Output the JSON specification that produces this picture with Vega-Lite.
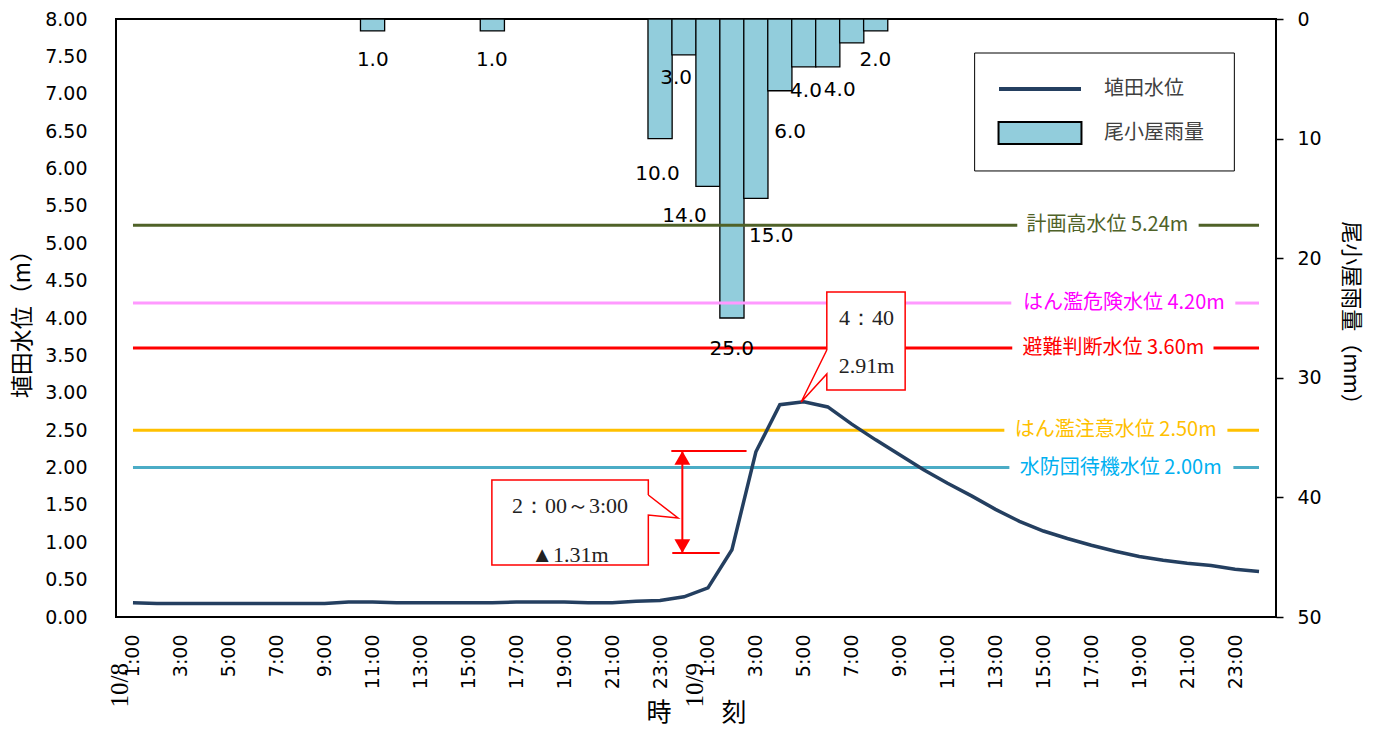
{
  "$schema": "https://vega.github.io/schema/vega-lite/v6.json",
  "width": 1160,
  "height": 598,
  "autosize": "none",
  "padding": {"left": 116, "top": 19, "right": 108, "bottom": 114},
  "background": "white",
  "config": {
    "view": {"stroke": "black", "strokeWidth": 2},
    "font": "DejaVu Sans",
    "axis": {"labelOverlap": false, "labelSeparation": 0}
  },
  "datasets": {
    "water": [
      {"i": 0, "level": 0.19}, {"i": 1, "level": 0.18}, {"i": 2, "level": 0.18}, {"i": 3, "level": 0.18},
      {"i": 4, "level": 0.18}, {"i": 5, "level": 0.18}, {"i": 6, "level": 0.18}, {"i": 7, "level": 0.18},
      {"i": 8, "level": 0.18}, {"i": 9, "level": 0.20}, {"i": 10, "level": 0.20}, {"i": 11, "level": 0.19},
      {"i": 12, "level": 0.19}, {"i": 13, "level": 0.19}, {"i": 14, "level": 0.19}, {"i": 15, "level": 0.19},
      {"i": 16, "level": 0.20}, {"i": 17, "level": 0.20}, {"i": 18, "level": 0.20}, {"i": 19, "level": 0.19},
      {"i": 20, "level": 0.19}, {"i": 21, "level": 0.21}, {"i": 22, "level": 0.22}, {"i": 23, "level": 0.27},
      {"i": 24, "level": 0.39}, {"i": 25, "level": 0.90}, {"i": 26, "level": 2.21}, {"i": 27, "level": 2.84},
      {"i": 28, "level": 2.88}, {"i": 29, "level": 2.81}, {"i": 30, "level": 2.58}, {"i": 31, "level": 2.37},
      {"i": 32, "level": 2.17}, {"i": 33, "level": 1.97}, {"i": 34, "level": 1.79}, {"i": 35, "level": 1.62},
      {"i": 36, "level": 1.44}, {"i": 37, "level": 1.28}, {"i": 38, "level": 1.15}, {"i": 39, "level": 1.05},
      {"i": 40, "level": 0.96}, {"i": 41, "level": 0.88}, {"i": 42, "level": 0.81}, {"i": 43, "level": 0.76},
      {"i": 44, "level": 0.72}, {"i": 45, "level": 0.69}, {"i": 46, "level": 0.64}, {"i": 47, "level": 0.61}
    ],
    "rain": [
      {"i": 10, "rain": 1, "lab_x": 10.01, "lab_y": 3.43},
      {"i": 15, "rain": 1, "lab_x": 14.98, "lab_y": 3.43},
      {"i": 22, "rain": 10, "lab_x": 21.89, "lab_y": 12.95},
      {"i": 23, "rain": 3, "lab_x": 22.67, "lab_y": 4.93},
      {"i": 24, "rain": 14, "lab_x": 23.02, "lab_y": 16.51},
      {"i": 25, "rain": 25, "lab_x": 24.99, "lab_y": 27.59},
      {"i": 26, "rain": 15, "lab_x": 26.64, "lab_y": 18.14},
      {"i": 27, "rain": 6, "lab_x": 27.43, "lab_y": 9.45},
      {"i": 28, "rain": 4, "lab_x": 28.09, "lab_y": 6.02},
      {"i": 29, "rain": 4, "lab_x": 29.5, "lab_y": 5.94},
      {"i": 30, "rain": 2, "lab_x": 30.99, "lab_y": 3.43},
      {"i": 31, "rain": 1}
    ],
    "levels": [
      {"name": "計画高水位", "label": "計画高水位 5.24m", "value": 5.24, "start": 0, "gap_from": 36.91, "gap_to": 44.48, "end": 47, "label_at": 40.67},
      {"name": "はん濫危険水位", "label": "はん濫危険水位 4.20m", "value": 4.20, "start": 0, "gap_from": 36.66, "gap_to": 46.01, "end": 47, "label_at": 41.36},
      {"name": "避難判断水位", "label": "避難判断水位 3.60m", "value": 3.60, "start": 0, "gap_from": 36.70, "gap_to": 45.10, "end": 47, "label_at": 40.92},
      {"name": "はん濫注意水位", "label": "はん濫注意水位 2.50m", "value": 2.50, "start": 0, "gap_from": 36.37, "gap_to": 45.68, "end": 47, "label_at": 41.02},
      {"name": "水防団待機水位", "label": "水防団待機水位 2.00m", "value": 2.00, "start": 0, "gap_from": 36.58, "gap_to": 45.93, "end": 47, "label_at": 41.23}
    ],
    "callout_box": [
      {"c": "peak", "x": 28.96, "x2": 32.23, "y": 3.037, "y2": 4.348},
      {"c": "rise", "x": 14.98, "x2": 21.51, "y": 0.696, "y2": 1.833}
    ],
    "callout_path": [
      {"c": "peak", "o": 0, "x": 28.96, "y": 3.572}, {"c": "peak", "o": 1, "x": 27.89, "y": 2.876},
      {"c": "peak", "o": 2, "x": 28.96, "y": 3.251}, {"c": "peak", "o": 3, "x": 28.96, "y": 3.037},
      {"c": "peak", "o": 4, "x": 32.23, "y": 3.037}, {"c": "peak", "o": 5, "x": 32.23, "y": 4.348},
      {"c": "peak", "o": 6, "x": 28.96, "y": 4.348}, {"c": "peak", "o": 7, "x": 28.96, "y": 3.572},
      {"c": "rise", "o": 0, "x": 21.51, "y": 1.632}, {"c": "rise", "o": 1, "x": 22.75, "y": 1.324},
      {"c": "rise", "o": 2, "x": 21.51, "y": 1.365}, {"c": "rise", "o": 3, "x": 21.51, "y": 0.696},
      {"c": "rise", "o": 4, "x": 14.98, "y": 0.696}, {"c": "rise", "o": 5, "x": 14.98, "y": 1.833},
      {"c": "rise", "o": 6, "x": 21.51, "y": 1.833}, {"c": "rise", "o": 7, "x": 21.51, "y": 1.632}
    ],
    "callout_text": [
      {"text": "4：40", "x": 30.62, "y": 4.00},
      {"text": "2.91m", "x": 30.62, "y": 3.36},
      {"text": "2：00～3:00", "x": 18.24, "y": 1.485},
      {"text": "▲1.31m", "x": 18.24, "y": 0.83}
    ],
    "arrow_lines": [
      {"x": 22.47, "x2": 25.61, "y": 2.221, "y2": 2.221},
      {"x": 22.51, "x2": 24.49, "y": 0.856, "y2": 0.856},
      {"x": 22.93, "x2": 22.93, "y": 2.221, "y2": 0.856}
    ],
    "arrow_heads": [
      {"end": "top", "x": 22.93, "y": 2.13},
      {"end": "bottom", "x": 22.93, "y": 0.947}
    ],
    "dates": [
      {"date": "10/8", "x": -0.54, "y": -0.615},
      {"date": "10/9", "x": 23.46, "y": -0.615}
    ],
    "legend_box": [
      {"x": 35.13, "x2": 45.97, "y": 5.967, "y2": 7.545}
    ]
  },
  "layer": [
    {
      "data": {"name": "rain"},
      "mark": {"type": "bar", "width": 24.1667, "stroke": "black", "strokeWidth": 1.3},
      "encoding": {
        "x": {"field": "i", "type": "quantitative", "scale": {"domain": [-0.5, 47.5], "nice": false, "zero": false}},
        "y": {
          "field": "rain", "type": "quantitative",
          "scale": {"domain": [0, 50], "reverse": true, "nice": false},
          "axis": {
            "orient": "right", "values": [0, 10, 20, 30, 40, 50], "domain": false, "grid": false,
            "ticks": true, "tickSize": 7, "tickWidth": 1.5, "tickColor": "black",
            "labelPadding": 14, "labelFontSize": 19, "labelColor": "black", "labelFont": "DejaVu Sans",
            "labelFlush": false, "labelOverlap": false,
            "title": "尾小屋雨量（mm）", "titleFont": "Noto Sans CJK JP", "titleFontSize": 22,
            "titleFontWeight": "normal", "titleColor": "black", "titlePadding": 17
          }
        },
        "fill": {
          "datum": "尾小屋雨量",
          "type": "nominal",
          "scale": {"domain": ["尾小屋雨量"], "range": ["#92CDDC"]},
          "legend": {
            "orient": "none", "legendX": 912, "legendY": 102, "title": null, "padding": 0,
            "symbolType": "M-3.77,-1H3.77V1H-3.77Z", "symbolSize": 484,
            "symbolStrokeColor": "black", "symbolStrokeWidth": 2, "symbolOpacity": 1,
            "labelOffset": 52, "labelFont": "Noto Sans CJK JP", "labelFontSize": 20, "labelColor": "#404040"
          }
        }
      }
    },
    {
      "layer": [
        {
          "data": {"name": "legend_box"},
          "mark": {"type": "rect", "fill": "white", "stroke": "black", "strokeWidth": 1},
          "encoding": {
            "x": {"field": "x", "type": "quantitative", "scale": {"domain": [-0.5, 47.5], "nice": false, "zero": false}},
            "x2": {"field": "x2"},
            "y": {"field": "y", "type": "quantitative", "scale": {"domain": [0, 8], "nice": false},
                  "axis": {"values": [0, 0.5, 1, 1.5, 2, 2.5, 3, 3.5, 4, 4.5, 5, 5.5, 6, 6.5, 7, 7.5, 8], "labelOverlap": false}},
            "y2": {"field": "y2"}
          }
        },
        {
          "data": {"name": "levels"},
          "mark": {"type": "rule", "strokeWidth": 3},
          "encoding": {
            "x": {"field": "start", "type": "quantitative"},
            "x2": {"field": "gap_from"},
            "y": {"field": "value", "type": "quantitative",
                  "axis": {"values": [0, 0.5, 1, 1.5, 2, 2.5, 3, 3.5, 4, 4.5, 5, 5.5, 6, 6.5, 7, 7.5, 8], "labelOverlap": false}},
            "color": {
              "field": "name", "type": "nominal", "legend": null,
              "scale": {
                "domain": ["計画高水位", "はん濫危険水位", "避難判断水位", "はん濫注意水位", "水防団待機水位", "計画高水位 5.24m", "はん濫危険水位 4.20m", "避難判断水位 3.60m", "はん濫注意水位 2.50m", "水防団待機水位 2.00m"],
                "range": ["#4F6228", "#FF99FF", "#FF0000", "#FFC000", "#4BACC6", "#4F6228", "#FF00FF", "#FF0000", "#FFC000", "#00B0F0"]
              }
            }
          }
        },
        {
          "data": {"name": "levels"},
          "mark": {"type": "rule", "strokeWidth": 3},
          "encoding": {
            "x": {"field": "gap_to", "type": "quantitative"},
            "x2": {"field": "end"},
            "y": {"field": "value", "type": "quantitative",
                  "axis": {"values": [0, 0.5, 1, 1.5, 2, 2.5, 3, 3.5, 4, 4.5, 5, 5.5, 6, 6.5, 7, 7.5, 8], "labelOverlap": false}},
            "color": {"field": "name", "type": "nominal", "legend": null}
          }
        },
        {
          "data": {"name": "levels"},
          "mark": {"type": "text", "font": "Noto Sans CJK JP", "fontSize": 20, "align": "center", "baseline": "middle"},
          "encoding": {
            "x": {"field": "label_at", "type": "quantitative"},
            "y": {"field": "value", "type": "quantitative",
                  "axis": {"values": [0, 0.5, 1, 1.5, 2, 2.5, 3, 3.5, 4, 4.5, 5, 5.5, 6, 6.5, 7, 7.5, 8], "labelOverlap": false}},
            "text": {"field": "label", "type": "nominal"},
            "color": {"field": "label", "type": "nominal", "legend": null}
          }
        },
        {
          "data": {"name": "water"},
          "mark": {"type": "line", "strokeWidth": 3.5},
          "encoding": {
            "x": {
              "field": "i", "type": "quantitative",
              "axis": {
                "values": [0, 2, 4, 6, 8, 10, 12, 14, 16, 18, 20, 22, 24, 26, 28, 30, 32, 34, 36, 38, 40, 42, 44, 46],
                "labelExpr": "(datum.value % 24 + 1) + ':00'",
                "labelAngle": 270, "ticks": false, "domain": false, "grid": false,
                "labelPadding": 17, "labelFontSize": 19, "labelColor": "black", "labelFont": "DejaVu Sans",
                "labelFlush": false, "labelOverlap": false,
                "title": "時　　刻", "titleFont": "Noto Sans CJK JP", "titleFontSize": 25,
                "titleFontWeight": "normal", "titleColor": "black", "titlePadding": 12
              }
            },
            "y": {
              "field": "level", "type": "quantitative",
              "axis": {
                "values": [0, 0.5, 1, 1.5, 2, 2.5, 3, 3.5, 4, 4.5, 5, 5.5, 6, 6.5, 7, 7.5, 8],
                "format": ".2f", "ticks": false, "domain": false, "grid": false,
                "labelPadding": 29, "labelFontSize": 19, "labelColor": "black", "labelFont": "DejaVu Sans",
                "labelFlush": false, "labelOverlap": false,
                "title": "埴田水位（m）", "titleFont": "Noto Sans CJK JP", "titleFontSize": 23,
                "titleFontWeight": "normal", "titleColor": "black", "titlePadding": 10
              }
            },
            "stroke": {
              "datum": "埴田水位",
              "type": "nominal",
              "scale": {"domain": ["埴田水位"], "range": ["#243F60"]},
              "legend": {
                "orient": "none", "legendX": 881, "legendY": 27, "title": null, "padding": 0,
                "symbolType": "stroke", "symbolSize": 6724, "symbolStrokeWidth": 4,
                "labelOffset": 21, "labelFont": "Noto Sans CJK JP", "labelFontSize": 20, "labelColor": "#404040"
              }
            }
          }
        },
        {
          "data": {"name": "callout_box"},
          "mark": {"type": "rect", "fill": "white"},
          "encoding": {
            "x": {"field": "x", "type": "quantitative"},
            "x2": {"field": "x2"},
            "y": {"field": "y", "type": "quantitative",
                  "axis": {"values": [0, 0.5, 1, 1.5, 2, 2.5, 3, 3.5, 4, 4.5, 5, 5.5, 6, 6.5, 7, 7.5, 8], "labelOverlap": false}},
            "y2": {"field": "y2"}
          }
        },
        {
          "data": {"name": "callout_path"},
          "mark": {"type": "line", "stroke": "#FF0000", "strokeWidth": 1.5},
          "encoding": {
            "x": {"field": "x", "type": "quantitative"},
            "y": {"field": "y", "type": "quantitative",
                  "axis": {"values": [0, 0.5, 1, 1.5, 2, 2.5, 3, 3.5, 4, 4.5, 5, 5.5, 6, 6.5, 7, 7.5, 8], "labelOverlap": false}},
            "order": {"field": "o", "type": "quantitative"},
            "detail": {"field": "c", "type": "nominal"}
          }
        },
        {
          "data": {"name": "callout_text"},
          "mark": {"type": "text", "font": "Liberation Serif", "fontSize": 22, "color": "#222222", "align": "center", "baseline": "middle"},
          "encoding": {
            "x": {"field": "x", "type": "quantitative"},
            "y": {"field": "y", "type": "quantitative",
                  "axis": {"values": [0, 0.5, 1, 1.5, 2, 2.5, 3, 3.5, 4, 4.5, 5, 5.5, 6, 6.5, 7, 7.5, 8], "labelOverlap": false}},
            "text": {"field": "text", "type": "nominal"}
          }
        },
        {
          "data": {"name": "arrow_lines"},
          "mark": {"type": "rule", "color": "#FF0000", "strokeWidth": 2},
          "encoding": {
            "x": {"field": "x", "type": "quantitative"},
            "x2": {"field": "x2"},
            "y": {"field": "y", "type": "quantitative",
                  "axis": {"values": [0, 0.5, 1, 1.5, 2, 2.5, 3, 3.5, 4, 4.5, 5, 5.5, 6, 6.5, 7, 7.5, 8], "labelOverlap": false}},
            "y2": {"field": "y2"}
          }
        },
        {
          "data": {"name": "arrow_heads"},
          "mark": {"type": "point", "filled": true, "color": "#FF0000", "opacity": 1, "size": 250},
          "encoding": {
            "x": {"field": "x", "type": "quantitative"},
            "y": {"field": "y", "type": "quantitative",
                  "axis": {"values": [0, 0.5, 1, 1.5, 2, 2.5, 3, 3.5, 4, 4.5, 5, 5.5, 6, 6.5, 7, 7.5, 8], "labelOverlap": false}},
            "shape": {"field": "end", "type": "nominal", "legend": null, "scale": {"domain": ["top", "bottom"], "range": ["triangle-up", "triangle-down"]}}
          }
        },
        {
          "data": {"name": "dates"},
          "mark": {"type": "text", "font": "Liberation Serif", "fontSize": 25, "color": "black", "angle": 270, "align": "right", "baseline": "middle"},
          "encoding": {
            "x": {"field": "x", "type": "quantitative"},
            "y": {"field": "y", "type": "quantitative",
                  "axis": {"values": [0, 0.5, 1, 1.5, 2, 2.5, 3, 3.5, 4, 4.5, 5, 5.5, 6, 6.5, 7, 7.5, 8], "labelOverlap": false}},
            "text": {"field": "date", "type": "nominal"}
          }
        }
      ]
    },
    {
      "data": {"name": "rain"},
      "transform": [{"filter": "isValid(datum.lab_x)"}],
      "mark": {"type": "text", "font": "DejaVu Sans", "fontSize": 20, "color": "black", "align": "center", "baseline": "middle"},
      "encoding": {
        "x": {"field": "lab_x", "type": "quantitative"},
        "y": {
          "field": "lab_y", "type": "quantitative",
          "scale": {"domain": [0, 50], "reverse": true, "nice": false},
          "axis": {"orient": "right", "labels": false, "ticks": false, "domain": false, "grid": false, "title": null}
        },
        "text": {"field": "rain", "type": "quantitative", "format": ".1f"}
      }
    }
  ],
  "resolve": {"scale": {"y": "independent"}}
}
